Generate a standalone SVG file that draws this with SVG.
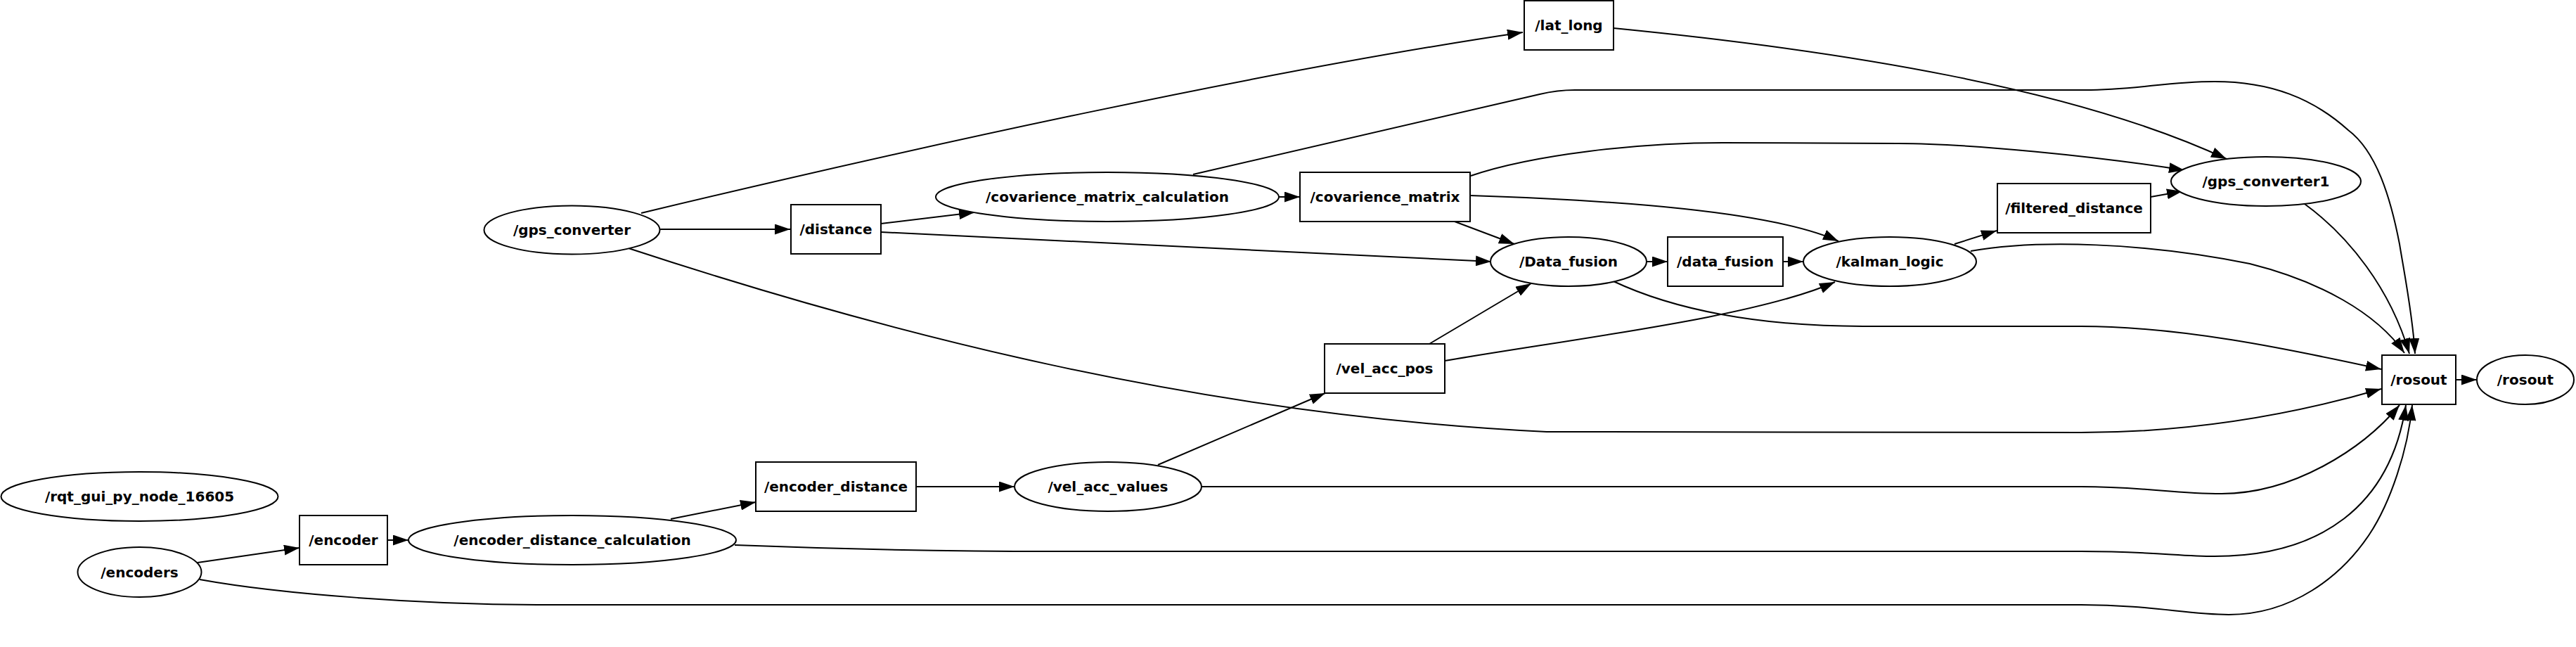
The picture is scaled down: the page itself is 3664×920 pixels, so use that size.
<svg xmlns="http://www.w3.org/2000/svg" width="3664" height="920" viewBox="0 0 3664 920">
<defs>
<marker id="arr" markerUnits="userSpaceOnUse" markerWidth="22" markerHeight="15" refX="22" refY="7.5" orient="auto">
<path d="M0,0 L22,7.5 L0,15 z" fill="#000"/>
</marker>
<style>
.n ellipse,.n rect{fill:#fff;stroke:#000;stroke-width:2}
.n text{font-family:"DejaVu Sans",sans-serif;font-weight:bold;font-size:20px;text-anchor:middle;fill:#000}
#edges path{fill:none;stroke:#000;stroke-width:2;marker-end:url(#arr)}
</style>
</defs>
<rect width="3664" height="920" fill="#fff"/>
<g id="edges">
<path d="M912,303 C1300,210 1800,100 2166,46"/>
<path d="M939,326 L1124,326"/>
<path d="M894,353 C1250,470 1700,590 2200,614 L2960,615 C3120,615 3260,590 3387,553"/>
<path d="M2295,40 C2620,72 2950,125 3167,226"/>
<path d="M1697,248 L2190,134 Q2215,128 2240,128 L2965,128 C3040,128 3080,116 3150,116 C3230,116 3290,140 3340,185 C3380,215 3400,280 3413,347 C3420,390 3432,450 3435,503"/>
<path d="M1819,280 L1849,280"/>
<path d="M1253,318 L1386,302"/>
<path d="M1253,330 L2121,372"/>
<path d="M2092,250 C2180,220 2330,203 2450,203 L2700,204 C2800,204 2980,222 3107,242"/>
<path d="M2091,278 C2300,285 2520,300 2615,343"/>
<path d="M2069,315 L2154,347"/>
<path d="M2342,372 L2372,372"/>
<path d="M2536,372 L2565,372"/>
<path d="M2780,347 L2840,328"/>
<path d="M3059,280 L3104,272"/>
<path d="M3278,290 C3340,335 3400,410 3427,503"/>
<path d="M2803,357 C2900,340 3050,345 3200,375 C3300,400 3380,445 3420,502"/>
<path d="M2295,400 C2380,440 2500,464 2650,464 L2960,464 C3100,464 3250,495 3387,525"/>
<path d="M2033,489 L2178,403"/>
<path d="M2055,513 C2250,480 2500,450 2610,401"/>
<path d="M1647,661 L1885,559"/>
<path d="M1709,692 L2960,692 C3050,692 3090,702 3160,702 C3260,702 3360,640 3413,576"/>
<path d="M1302,692 L1443,692"/>
<path d="M954,738 L1075,714"/>
<path d="M1045,775 C1200,781 1350,784 1500,784 L2960,784 C3060,784 3100,791 3150,791 C3300,791 3400,720 3422,576"/>
<path d="M551,768 L581,768"/>
<path d="M281,800 L426,779"/>
<path d="M284,824 C400,845 600,860 780,860 L2960,860 C3060,860 3110,874 3170,874 C3260,874 3330,820 3370,760 C3400,715 3425,640 3431,576"/>
<path d="M3493,540 L3523,540"/>
</g>
<g id="n_rqt" class="n"><ellipse cx="198.5" cy="706" rx="197" ry="35"/><text x="198.5" y="713">/rqt_gui_py_node_16605</text></g>
<g id="n_encoders" class="n"><ellipse cx="198.5" cy="813.5" rx="88" ry="35.5"/><text x="198.5" y="820.5">/encoders</text></g>
<g id="n_encoder" class="n"><rect x="426" y="733" width="125" height="70"/><text x="488.5" y="775">/encoder</text></g>
<g id="n_edc" class="n"><ellipse cx="814" cy="768" rx="233" ry="35"/><text x="814" y="775">/encoder_distance_calculation</text></g>
<g id="n_encdist" class="n"><rect x="1075" y="657" width="228" height="70"/><text x="1189" y="699">/encoder_distance</text></g>
<g id="n_vav" class="n"><ellipse cx="1576" cy="692" rx="133" ry="35"/><text x="1576" y="699">/vel_acc_values</text></g>
<g id="n_vap" class="n"><rect x="1884" y="489" width="171" height="70"/><text x="1969.5" y="531">/vel_acc_pos</text></g>
<g id="n_gps" class="n"><ellipse cx="813.5" cy="327" rx="125" ry="34.5"/><text x="813.5" y="334">/gps_converter</text></g>
<g id="n_distance" class="n"><rect x="1125" y="291" width="128" height="70"/><text x="1189" y="333">/distance</text></g>
<g id="n_ccalc" class="n"><ellipse cx="1575" cy="280" rx="244" ry="35"/><text x="1575" y="287">/covarience_matrix_calculation</text></g>
<g id="n_cmat" class="n"><rect x="1849" y="245" width="242" height="70"/><text x="1970" y="287">/covarience_matrix</text></g>
<g id="n_latlong" class="n"><rect x="2168" y="1" width="127" height="70"/><text x="2231.5" y="43">/lat_long</text></g>
<g id="n_Dfusion" class="n"><ellipse cx="2231" cy="372" rx="111" ry="35"/><text x="2231" y="379">/Data_fusion</text></g>
<g id="n_dfusion" class="n"><rect x="2372" y="337" width="164" height="70"/><text x="2454" y="379">/data_fusion</text></g>
<g id="n_kalman" class="n"><ellipse cx="2688" cy="372" rx="123" ry="35"/><text x="2688" y="379">/kalman_logic</text></g>
<g id="n_filtered" class="n"><rect x="2841" y="261" width="218" height="70"/><text x="2950" y="303">/filtered_distance</text></g>
<g id="n_gps1" class="n"><ellipse cx="3223" cy="258" rx="135" ry="35"/><text x="3223" y="265">/gps_converter1</text></g>
<g id="n_rosout_topic" class="n"><rect x="3388" y="505" width="105" height="70"/><text x="3440.5" y="547">/rosout</text></g>
<g id="n_rosout_node" class="n"><ellipse cx="3592" cy="540" rx="69" ry="35"/><text x="3592" y="547">/rosout</text></g>
</svg>
